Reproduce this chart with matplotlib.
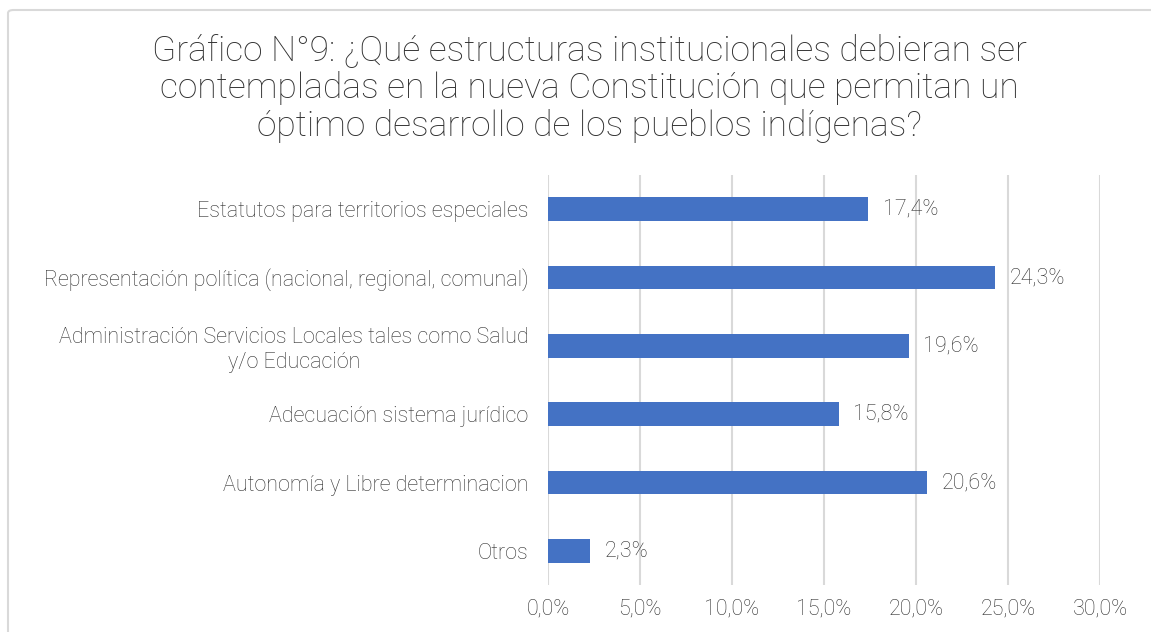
import matplotlib
matplotlib.use("Agg")
import matplotlib.pyplot as plt
from matplotlib.patches import FancyBboxPatch

categorias = [
    "Estatutos para territorios especiales",
    "Representación política (nacional, regional, comunal)",
    "Administración Servicios Locales tales como Salud\ny/o Educación",
    "Adecuación sistema jurídico",
    "Autonomía y Libre determinacion",
    "Otros",
]
valores = [17.4, 24.3, 19.6, 15.8, 20.6, 2.3]
ticks = [0, 5, 10, 15, 20, 25, 30]

titulo = ("Gráfico N°9: ¿Qué estructuras institucionales debieran ser\n"
          "contempladas en la nueva Constitución que permitan un\n"
          "óptimo desarrollo de los pueblos indígenas?")

plt.rcParams["font.family"] = ["Roboto", "DejaVu Sans"]
gris = "#303030"

fig = plt.figure(figsize=(11.51, 6.32), dpi=100)
ax = fig.add_axes([548 / 1151, 1 - 585 / 632, 552 / 1151, 410 / 632])

y = list(range(len(categorias)))
ax.barh(y, valores, height=0.35, color="#4472C4", zorder=3)
ax.set_ylim(len(categorias) - 0.5, -0.5)
ax.set_xlim(0, 30)
ax.set_xticks(ticks)
ax.set_xticklabels([f"{t:.1f}%".replace(".", ",") for t in ticks],
                   fontsize=15.5, color=gris, fontweight="light")
ax.set_yticks(y)
ax.set_yticklabels(categorias, fontsize=15.5, color=gris,
                   fontweight="light", linespacing=1.2,
                   multialignment="center")
ax.tick_params(length=0)
ax.tick_params(axis="x", pad=10)
ax.tick_params(axis="y", pad=14)
ax.grid(axis="x", color="#D9D9D9", linewidth=1.5, zorder=0)
for s in ax.spines.values():
    s.set_visible(False)

for yi, v in zip(y, valores):
    ax.text(v + 0.8, yi, f"{v:.1f}%".replace(".", ","), va="center",
            ha="left", fontsize=15.5, color=gris, fontweight="light")

fig.text(589 / 1151, 1 - 88 / 632, titulo, ha="center", va="center",
         fontsize=25.5, color=gris, fontweight="light", linespacing=1.15)

border = FancyBboxPatch((8 / 1151, -0.02), 1.1, 1 - 10 / 632 + 0.02,
                        boxstyle="round,pad=0,rounding_size=0.005",
                        transform=fig.transFigure, fill=False,
                        edgecolor="#D9D9D9", linewidth=1.5)
fig.patches.append(border)

fig.savefig("out.png", dpi=100)
